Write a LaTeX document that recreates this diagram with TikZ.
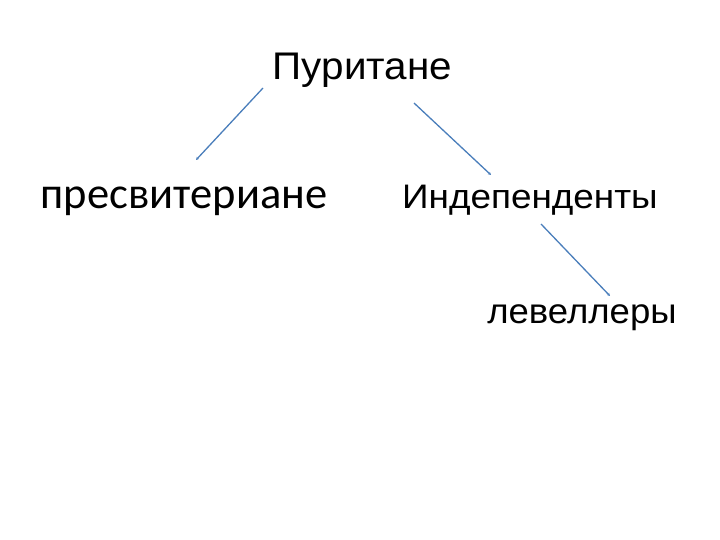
\documentclass[tikz,border=0pt]{standalone}
\usepackage{fontspec}
\setmainfont{Liberation Sans}
\newfontfamily\calfont{Carlito}
\usetikzlibrary{arrows.meta}
\definecolor{linec}{HTML}{4A7EBB}
\tikzset{
  lbl/.style={font=\fontsize{34}{40}\selectfont, inner sep=0pt, anchor=base},
  conn/.style={draw=linec, line width=1.3pt, -{Stealth[length=3pt,width=3pt]}}
}
\begin{document}
\begin{tikzpicture}[x=1pt,y=-1pt]
\useasboundingbox (0,0) rectangle (720,540);
\node[lbl, font=\fontsize{38.5}{46}\selectfont, xscale=1.05] (p) at (362.5,79.3) {Пуритане};
\node[lbl, font=\calfont\fontsize{44.5}{54}\selectfont] (a) at (184,208.5) {пресвитериане};
\node[lbl, xscale=1.085] (b) at (530,208) {Индепенденты};
\node[lbl, font=\fontsize{35}{42}\selectfont, xscale=1.044] (c) at (582,323) {левеллеры};
\coordinate (p1) at (263,88);
\coordinate (a1) at (196,160);
\coordinate (p2) at (414,103);
\coordinate (b1) at (491,175);
\coordinate (b2) at (541,224);
\coordinate (c1) at (610,296);
\draw[conn] (p1) -- (a1);
\draw[conn] (p2) -- (b1);
\draw[conn] (b2) -- (c1);
\end{tikzpicture}
\end{document}
